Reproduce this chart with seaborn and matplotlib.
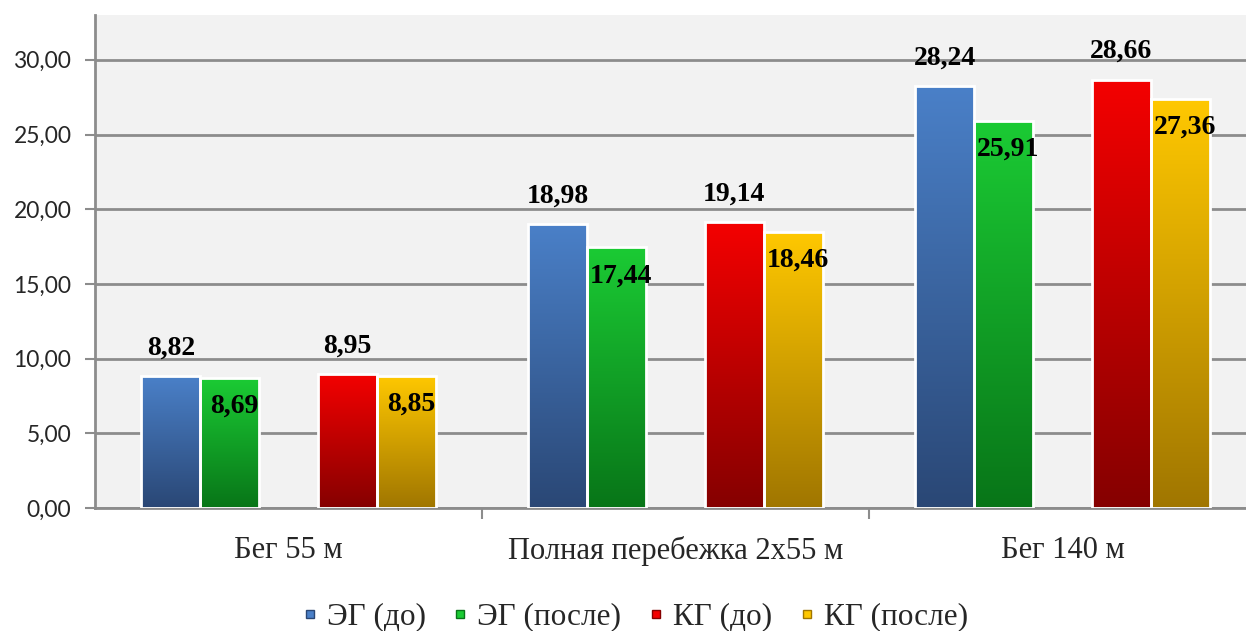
import numpy as np
import pandas as pd
import matplotlib
matplotlib.use("Agg")
import matplotlib.pyplot as plt
from matplotlib.colors import LinearSegmentedColormap
from matplotlib.lines import Line2D
import seaborn as sns

categories = ["Бег 55 м", "Полная перебежка 2х55 м", "Бег 140 м"]
eg_before = [8.82, 18.98, 28.24]
eg_after = [8.69, 17.44, 25.91]
kg_before = [8.95, 19.14, 28.66]
kg_after = [8.85, 18.46, 27.36]
series_names = ["ЭГ (до)", "ЭГ (после)", "КГ (до)", "КГ (после)"]

# gradient colours (top, bottom) per series
grad = {
    "ЭГ (до)": ("#4A80C8", "#2A4775"),
    "ЭГ (после)": ("#1BCB34", "#087518"),
    "КГ (до)": ("#F40000", "#850000"),
    "КГ (после)": ("#FFC800", "#A07600"),
}

rows = []
for name, vals in zip(series_names, [eg_before, eg_after, kg_before, kg_after]):
    for c, v in zip(categories, vals):
        rows.append({"cat": c, "series": name, "value": v})
df = pd.DataFrame(rows)
# empty slot between the two groups
hue_order = ["ЭГ (до)", "ЭГ (после)", " ", "КГ (до)", "КГ (после)"]

sns.set_style("white")
plt.rcParams["font.family"] = ["Liberation Serif", "DejaVu Serif"]

fig = plt.figure(figsize=(12.46, 6.31), dpi=100)
ax = fig.add_axes([95 / 1246, 123 / 631, 1161 / 1246, 493 / 631])
ax.set_facecolor("#F2F2F2")

sns.barplot(data=df, x="cat", y="value", hue="series", order=categories,
            hue_order=hue_order, width=0.76, ax=ax, legend=False,
            edgecolor="white", linewidth=2, errorbar=None, zorder=3)

# gradient fills and labels (containers come in hue order, empty slot has none)
conts = [c for c in ax.containers if len(c) > 0 and np.nansum([b.get_height() for b in c]) > 0]
for name, cont in zip(series_names, conts):
    top, bot = grad[name]
    cmap = LinearSegmentedColormap.from_list(name, [bot, top])
    for bar in cont:
        x0 = bar.get_x()
        w = bar.get_width()
        h = bar.get_height()
        bar.set_facecolor("none")
        img = ax.imshow(np.linspace(0, 1, 256).reshape(-1, 1), cmap=cmap,
                        origin="lower", aspect="auto", extent=[x0, x0 + w, 0, h],
                        zorder=2.5)
        img.set_clip_path(bar)
        label = f"{h:.2f}".replace(".", ",")
        if "после" not in name:
            ax.text(x0 + w / 2, h + 1.9, label, ha="center", va="center",
                    fontsize=20, fontweight="bold", color="black", zorder=5)
        else:
            ax.text(x0 + w / 2 + 0.012, h - 1.9, label, ha="center", va="center",
                    fontsize=20, fontweight="bold", color="black", zorder=5)

ax.set_xlim(-0.5, 2.5)
ax.set_ylim(0, 33)
ax.set_yticks(np.arange(0, 31, 5))
ax.set_yticklabels([f"{v:.2f}".replace(".", ",") for v in np.arange(0, 31, 5)],
                   fontfamily="Lato", fontsize=16.5, color="#262626")
ax.yaxis.grid(True, color="#8C8C8C", linewidth=2, zorder=1)
ax.set_axisbelow(True)

ax.set_xticks([0.5, 1.5])
ax.set_xticklabels(["", ""])
ax.set_xticks([0, 1, 2], minor=True)
ax.set_xticklabels(categories, minor=True, fontsize=22)
ax.tick_params(axis="x", which="major", length=8, width=1.5, color="#8C8C8C", direction="out", bottom=True)
ax.tick_params(axis="x", which="minor", length=0, pad=20)
ax.tick_params(axis="y", length=7, width=1.5, color="#8C8C8C", direction="out", left=True, pad=10)
ax.set_xlabel("")
ax.set_ylabel("")

for s in ["top", "right"]:
    ax.spines[s].set_visible(False)
for s in ["left", "bottom"]:
    ax.spines[s].set_color("#8C8C8C")
    ax.spines[s].set_linewidth(2)

handles = [Line2D([], [], marker="s", linestyle="", markersize=6,
                  markerfacecolor=grad[n][0], markeredgecolor=grad[n][1])
           for n in series_names]
fig.legend(handles, series_names, loc="center", bbox_to_anchor=(0.507, 0.022),
           ncol=4, frameon=False, fontsize=22.5, handletextpad=0.1, columnspacing=0.65,
           handlelength=0.9)

fig.savefig("out.png", dpi=100)
